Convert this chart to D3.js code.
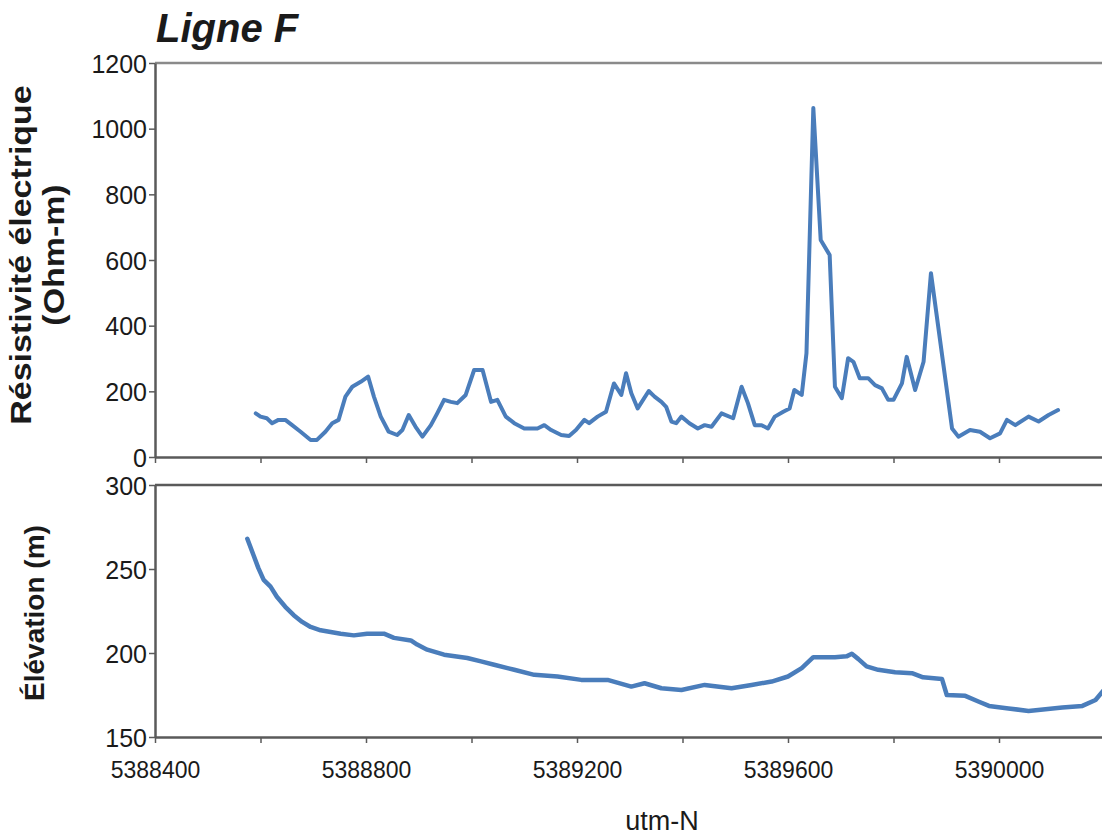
<!DOCTYPE html>
<html>
<head>
<meta charset="utf-8">
<script src="https://cdn.jsdelivr.net/npm/d3@7"></script>
<style>
  html, body { margin: 0; padding: 0; background: #fff; }
  svg { display: block; }
  text { font-family: "Liberation Sans", Arial, sans-serif; fill: #1a1a1a; }
</style>
</head>
<body>
<svg id="chart" width="1102" height="838"></svg>
<script>
// Line F profile: resistivity and ground elevation along utm-N
const utmRes = [
  5388591, 5388600, 5388612, 5388622, 5388634, 5388647, 5388660, 5388676, 5388695, 5388707,
  5388723, 5388736, 5388748, 5388761, 5388774, 5388790, 5388804, 5388815, 5388828, 5388843,
  5388859, 5388869, 5388881, 5388894, 5388907, 5388923, 5388935, 5388948, 5388961, 5388973,
  5388989, 5389005, 5389021, 5389037, 5389049, 5389065, 5389081, 5389100, 5389125, 5389138,
  5389151, 5389170, 5389185, 5389198, 5389214, 5389223, 5389239, 5389255, 5389270, 5389284,
  5389293, 5389303, 5389315, 5389336, 5389347, 5389360, 5389369, 5389379, 5389388, 5389398,
  5389413, 5389429, 5389442, 5389455, 5389474, 5389496, 5389512, 5389524, 5389537, 5389550,
  5389562, 5389575, 5389591, 5389603, 5389612, 5389626, 5389635, 5389648, 5389662, 5389679,
  5389689, 5389702, 5389714, 5389724, 5389736, 5389752, 5389765, 5389778, 5389790, 5389800,
  5389816, 5389825, 5389841, 5389857, 5389871, 5389911, 5389923, 5389945, 5389964, 5389983,
  5390002, 5390015, 5390031, 5390056, 5390075, 5390094, 5390112
];
const resistivity = [
  133, 123, 118, 103, 113, 113, 97, 77, 52, 52,
  77, 103, 113, 184, 214, 229, 245, 184, 123, 77,
  67, 82, 128, 92, 62, 97, 133, 174, 168, 164,
  189, 265, 265, 168, 174, 123, 103, 87, 87, 97,
  82, 67, 64, 82, 113, 103, 123, 138, 224, 189,
  255, 194, 148, 201, 184, 168, 153, 108, 103, 123,
  103, 87, 97, 92, 133, 118, 214, 164, 97, 97,
  87, 123, 138, 148, 204, 189, 316, 1063, 661, 615,
  214, 179, 301, 290, 240, 240, 219, 209, 174, 174,
  224, 305, 204, 290, 560, 87, 62, 82, 77, 57,
  72, 113, 97, 123, 108, 128, 143
];

const utmElev = [
  5388575, 5388587, 5388596, 5388606, 5388619, 5388631, 5388647, 5388663, 5388679, 5388695,
  5388714, 5388733, 5388752, 5388777, 5388802, 5388834, 5388853, 5388885, 5388897, 5388916,
  5388948, 5388992, 5389018, 5389043, 5389081, 5389119, 5389163, 5389208, 5389258, 5389303,
  5389328, 5389360, 5389398, 5389442, 5389493, 5389531, 5389569, 5389600, 5389626, 5389648,
  5389689, 5389711, 5389721, 5389733, 5389749, 5389771, 5389803, 5389835, 5389856, 5389892,
  5389901, 5389936, 5389962, 5389981, 5390018, 5390056, 5390088, 5390120, 5390158, 5390183,
  5390199, 5390215
];
const elevation = [
  268, 258, 250.5, 243.5, 239.5, 233.5, 227.5, 222.5, 218.5, 215.5,
  213.5, 212.5, 211.5, 210.5, 211.5, 211.5, 209, 207.5, 205, 202,
  199, 197, 195, 193, 190, 187, 186, 184, 184, 180,
  182, 179, 178, 181, 179, 181, 183, 186, 191, 197.5,
  197.5, 198, 199.5, 196.5, 192, 190, 188.5, 188, 185.5, 184.5,
  175, 174.5, 171, 168.5, 167, 165.5, 166.5, 167.5, 168.5, 172,
  178, 184
];

const resTicks = [0, 200, 400, 600, 800, 1000, 1200];
const elevTicks = [150, 200, 250, 300];
const utmTicks = [5388400, 5388600, 5388800, 5389000, 5389200, 5389400, 5389600, 5389800, 5390000, 5390200];
const utmLabels = [5388400, 5388800, 5389200, 5389600, 5390000];

const svg = d3.select("#chart");
const lineColor = "#4a7dbb";
const axisColor = "#5a5a5a";

const left = 155, right = 1104.5;
const top1 = 63, bottom1 = 457;
const top2 = 485, bottom2 = 737;

const x = d3.scaleLinear().domain([5388400, 5390200]).range([left, right]);
const yRes = d3.scaleLinear().domain([0, 1200]).range([bottom1, top1]);
const yElev = d3.scaleLinear().domain([150, 300]).range([bottom2, top2]);

svg.append("defs").append("clipPath").attr("id", "clip2")
  .append("rect").attr("x", left).attr("y", top2).attr("width", right - left).attr("height", bottom2 - top2);

function styleAxis(g) {
  g.selectAll(".domain").attr("stroke", axisColor).attr("stroke-width", 2.5);
  g.selectAll(".tick line").attr("stroke", axisColor).attr("stroke-width", 1.5);
  g.selectAll(".tick text").attr("fill", "#1a1a1a").attr("font-family", "Liberation Sans, Arial, sans-serif");
}

// top frame lines
svg.append("line").attr("x1", left).attr("x2", right).attr("y1", top1).attr("y2", top1)
  .attr("stroke", "#8a8a8a").attr("stroke-width", 2.5);
svg.append("line").attr("x1", left).attr("x2", right).attr("y1", top2).attr("y2", top2)
  .attr("stroke", axisColor).attr("stroke-width", 2.5);

// resistivity panel axes
svg.append("g").attr("transform", `translate(0,${bottom1})`)
  .call(d3.axisBottom(x).tickValues(utmTicks).tickSize(6).tickSizeOuter(0).tickFormat(""))
  .call(styleAxis);
svg.append("g").attr("transform", `translate(${left},0)`)
  .call(d3.axisLeft(yRes).tickValues(resTicks).tickSize(6).tickSizeOuter(0).tickPadding(2).tickFormat(d3.format("d")))
  .call(styleAxis)
  .call(g => g.selectAll(".tick text").attr("font-size", 25).attr("dy", "0.36em"));

// elevation panel axes
svg.append("g").attr("transform", `translate(0,${bottom2})`)
  .call(d3.axisBottom(x).tickValues(utmTicks).tickSize(6).tickSizeOuter(0).tickPadding(19)
    .tickFormat(d => utmLabels.includes(d) ? d3.format("d")(d) : ""))
  .call(styleAxis)
  .call(g => g.selectAll(".tick text").attr("font-size", 23));
svg.append("g").attr("transform", `translate(${left},0)`)
  .call(d3.axisLeft(yElev).tickValues(elevTicks).tickSize(6).tickSizeOuter(0).tickPadding(2).tickFormat(d3.format("d")))
  .call(styleAxis)
  .call(g => g.selectAll(".tick text").attr("font-size", 25).attr("dy", "0.36em"));

// data lines
const resLine = d3.line().x((d, i) => x(utmRes[i])).y(d => yRes(d));
svg.append("path").datum(resistivity).attr("d", resLine)
  .attr("fill", "none").attr("stroke", lineColor).attr("stroke-width", 4)
  .attr("stroke-linejoin", "round").attr("stroke-linecap", "round");

const elevLine = d3.line().x((d, i) => x(utmElev[i])).y(d => yElev(d));
svg.append("path").datum(elevation).attr("d", elevLine).attr("clip-path", "url(#clip2)")
  .attr("fill", "none").attr("stroke", lineColor).attr("stroke-width", 4.5)
  .attr("stroke-linejoin", "round").attr("stroke-linecap", "round");

// titles
svg.append("text").attr("x", 156).attr("y", 42)
  .attr("font-size", 40).attr("font-weight", "bold").attr("font-style", "italic")
  .text("Ligne F");

const resTitle = svg.append("text")
  .attr("transform", "translate(47,255) rotate(-90) scale(1.17,1)")
  .attr("text-anchor", "middle").attr("font-size", 29).attr("font-weight", "bold");
resTitle.append("tspan").attr("x", 0).attr("dy", "-0.55em").text("Résistivité électrique");
resTitle.append("tspan").attr("x", 0).attr("dy", "1.15em").text("(Ohm-m)");

svg.append("text")
  .attr("transform", `translate(44,${(top2 + bottom2) / 2 + 2}) rotate(-90)`)
  .attr("text-anchor", "middle").attr("font-size", 28).attr("font-weight", "bold")
  .text("Élévation (m)");

svg.append("text").attr("x", 662).attr("y", 830)
  .attr("text-anchor", "middle").attr("font-size", 27)
  .text("utm-N");
</script>
</body>
</html>
